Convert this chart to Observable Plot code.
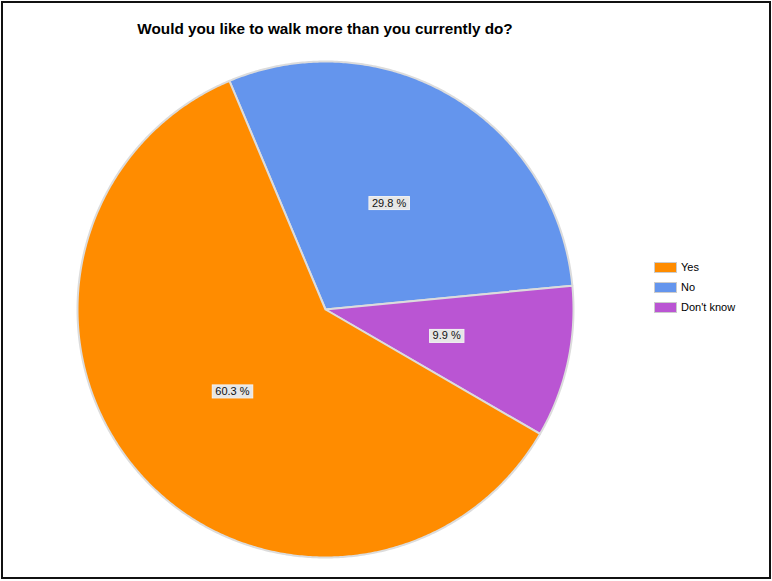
<!DOCTYPE html>
<html>
<head>
<meta charset="utf-8">
<script src="https://cdn.jsdelivr.net/npm/d3@7"></script>
<script src="https://cdn.jsdelivr.net/npm/@observablehq/plot@0.6"></script>
<style>
  html, body { margin: 0; padding: 0; background: #fff; }
  #wrap { position: relative; width: 772px; height: 581px; overflow: hidden; font-family: Arial, "Liberation Sans", sans-serif; }
  #border { position: absolute; left: 1px; top: 1px; width: 770px; height: 578px; box-sizing: border-box; border: 2px solid #111; pointer-events: none; }
  #title { position: absolute; left: 0; width: 650px; top: 20px; text-align: center; font-weight: bold; font-size: 15.3px; color: #000; }
  #legend { position: absolute; left: 654px; top: 257px; font-size: 11px; color: #000; }
  .row { display: flex; align-items: center; height: 20px; }
  .sw { width: 21px; height: 9px; border: 1px solid #ccc; margin-right: 4px; }
  #chart { position: absolute; left: 0; top: 0; }
</style>
</head>
<body>
<div id="wrap">
  <div id="chart"></div>
  <div id="title"></div>
  <div id="legend"></div>
  <div id="border"></div>
</div>
<script>
const title = "Would you like to walk more than you currently do?";
const categories = ["Yes", "No", "Don't know"];
const values = [60.3, 29.8, 9.9];
const colors = ["#FF8C00", "#6495ED", "#BA55D3"];
// drawing order clockwise from the No slice start
const drawOrder = ["No", "Don't know", "Yes"];
const startDeg = -22.8;

document.getElementById("title").textContent = title;

const total = d3.sum(values);
const valueOf = Object.fromEntries(categories.map((c, i) => [c, values[i]]));

// Build slice outline points from the data (angles measured clockwise from north)
const pts = [];
const labels = [];
let a = startDeg * Math.PI / 180;
for (const name of drawOrder) {
  const span = valueOf[name] / total * 2 * Math.PI;
  const a0 = a, a1 = a + span;
  const n = Math.max(2, Math.ceil(span / (Math.PI / 360)));
  pts.push({name, x: 0, y: 0});
  for (let k = 0; k <= n; k++) {
    const t = a0 + (a1 - a0) * k / n;
    pts.push({name, x: Math.sin(t), y: Math.cos(t)});
  }
  pts.push({name, x: 0, y: 0});
  const m = (a0 + a1) / 2;
  labels.push({name, x: 0.5 * Math.sin(m), y: 0.5 * Math.cos(m), text: valueOf[name].toFixed(1) + " %"});
  a = a1;
}

const plot = Plot.plot({
  width: 772,
  height: 581,
  margin: 0,
  x: {domain: [-1, 1], range: [77, 573], axis: null},
  y: {domain: [-1, 1], range: [557, 61], axis: null},
  color: {domain: categories, range: colors},
  style: {background: "transparent", fontFamily: "Arial, 'Liberation Sans', sans-serif"},
  marks: [
    Plot.line(pts, {x: "x", y: "y", z: "name", fill: "name", stroke: "#dcdcdc", strokeWidth: 2, strokeLinejoin: "round", curve: "linear"}),
    Plot.text(labels, {x: "x", y: "y", text: "text", fill: "#111", fontSize: 11, className: "pielabel"})
  ]
});
document.getElementById("chart").appendChild(plot);

// boxes behind the value labels
plot.querySelectorAll(".pielabel text").forEach(t => {
  const b = t.getBBox();
  const r = document.createElementNS("http://www.w3.org/2000/svg", "rect");
  r.setAttribute("x", b.x - 3);
  r.setAttribute("y", b.y);
  r.setAttribute("width", b.width + 6);
  r.setAttribute("height", b.height + 1);
  r.setAttribute("fill", "#e6e6e6");
  r.setAttribute("stroke", "#f2f2f2");
  r.setAttribute("stroke-width", 1);
  const tr = t.getAttribute("transform");
  if (tr) r.setAttribute("transform", tr);
  t.parentNode.insertBefore(r, t);
});

const legend = document.getElementById("legend");
categories.forEach((c, i) => {
  const row = document.createElement("div");
  row.className = "row";
  const sw = document.createElement("div");
  sw.className = "sw";
  sw.style.background = colors[i];
  const lab = document.createElement("span");
  lab.textContent = c;
  row.appendChild(sw);
  row.appendChild(lab);
  legend.appendChild(row);
});
</script>
</body>
</html>
